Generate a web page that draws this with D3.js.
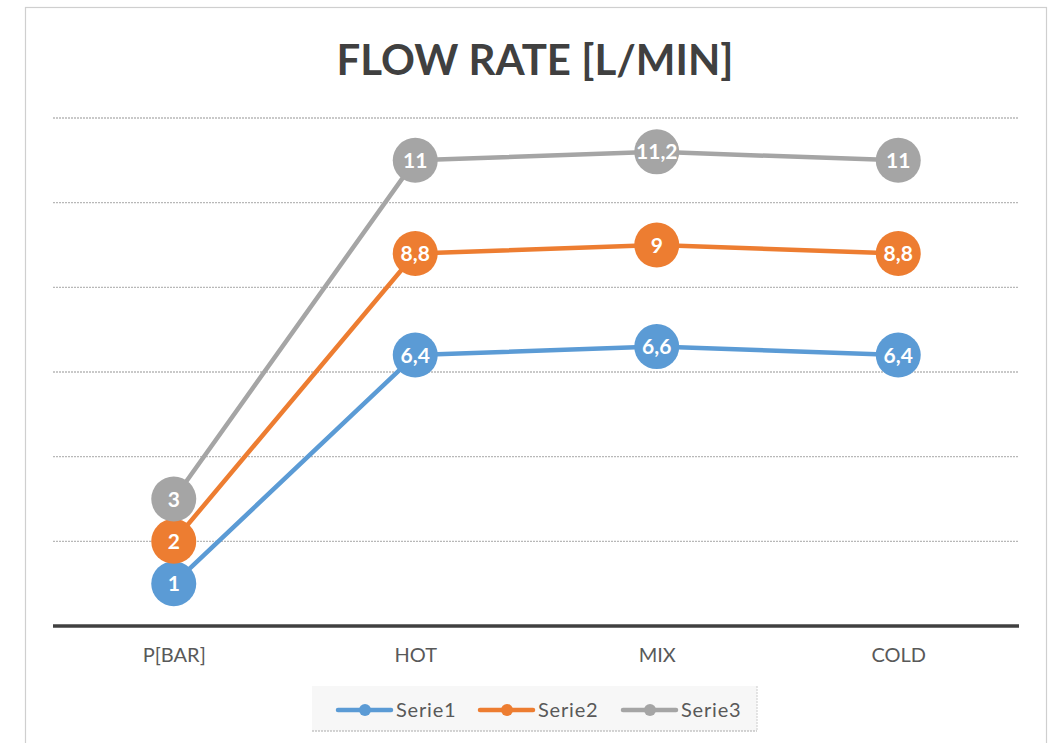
<!DOCTYPE html>
<html><head><meta charset="utf-8">
<script src="https://cdn.jsdelivr.net/npm/d3@7"></script>
<style>body{margin:0;background:#fff;}svg{display:block;}</style>
</head><body>
<svg id="c" width="1062" height="743"></svg>
<script>
const categories = ["P[BAR]", "HOT", "MIX", "COLD"];
const serie1 = [1, 6.4, 6.6, 6.4];
const serie2 = [2, 8.8, 9, 8.8];
const serie3 = [3, 11, 11.2, 11];
const seriesNames = ["Serie1", "Serie2", "Serie3"];
const seriesColors = ["#5B9BD5", "#ED7D31", "#A5A5A5"];
const yTicks = [0, 2, 4, 6, 8, 10, 12];
const title = "FLOW RATE [L/MIN]";

const font = "Lato, 'Open Sans', sans-serif";
const svg = d3.select("#c");
svg.append("rect").attr("x", 25.5).attr("y", 7.5).attr("width", 1021).attr("height", 760)
  .attr("fill", "#fff").attr("stroke", "#cfcfcf").attr("stroke-width", 1.2);

const left = 53, right = 1019;
const x = d3.scalePoint().domain(categories).range([left, right]).padding(0.5);
const y = d3.scaleLinear().domain([0, 12]).range([626, 118]);

svg.append("text").attr("x", 535).attr("y", 75).attr("text-anchor", "middle")
  .attr("font-family", font).attr("font-weight", "bold").attr("font-size", 42)
  .attr("fill", "#404040").text(title);

// gridlines
svg.append("g").selectAll("line").data(yTicks.filter(d => d > 0)).join("line")
  .attr("x1", left).attr("x2", right).attr("y1", d => y(d)).attr("y2", d => y(d))
  .attr("stroke", "#b8b8b8").attr("stroke-width", 1.3).attr("stroke-dasharray", "2,1");

// x axis
const xAxis = svg.append("g").attr("transform", `translate(0,${y(0)})`)
  .call(d3.axisBottom(x).tickSize(0).tickPadding(22));
xAxis.select(".domain").attr("stroke", "#404040").attr("stroke-width", 3.5)
  .attr("d", `M${left},0H${right}`);
xAxis.selectAll("text").attr("font-family", font).attr("font-size", 20).attr("fill", "#595959");

const allSeries = [serie1, serie2, serie3];
const line = d3.line().x((d, i) => x(categories[i])).y(d => y(d));
allSeries.forEach((s, k) => {
  svg.append("path").datum(s).attr("d", line).attr("fill", "none")
    .attr("stroke", seriesColors[k]).attr("stroke-width", 4.5).attr("stroke-linejoin", "round");
});
allSeries.forEach((s, k) => {
  const g = svg.append("g");
  g.selectAll("circle").data(s).join("circle")
    .attr("cx", (d, i) => x(categories[i])).attr("cy", d => y(d)).attr("r", 22.5)
    .attr("fill", seriesColors[k]);
  g.selectAll("text").data(s).join("text")
    .attr("x", (d, i) => x(categories[i])).attr("y", d => y(d) + 7.5)
    .attr("text-anchor", "middle").attr("font-family", font).attr("font-weight", "bold")
    .attr("font-size", 21).attr("fill", "#fff")
    .text(d => String(d).replace(".", ","));
});

// legend
const lg = svg.append("g");
lg.append("rect").attr("x", 312).attr("y", 686).attr("width", 445).attr("height", 45)
  .attr("fill", "#f7f7f7");
lg.append("line").attr("x1", 312).attr("x2", 757).attr("y1", 731).attr("y2", 731)
  .attr("stroke", "#aaa").attr("stroke-dasharray", "2,1");
lg.append("line").attr("x1", 757).attr("x2", 757).attr("y1", 686).attr("y2", 731)
  .attr("stroke", "#ccc").attr("stroke-dasharray", "2,1");
const lx = [338, 480, 623];
seriesNames.forEach((n, k) => {
  const gx = lx[k];
  lg.append("line").attr("x1", gx).attr("x2", gx + 53).attr("y1", 710).attr("y2", 710)
    .attr("stroke", seriesColors[k]).attr("stroke-width", 4.5).attr("stroke-linecap", "round");
  lg.append("circle").attr("cx", gx + 27).attr("cy", 710).attr("r", 6).attr("fill", seriesColors[k]);
  lg.append("text").attr("x", gx + 58).attr("y", 717).attr("font-family", font)
    .attr("font-size", 20).attr("letter-spacing", 0.8).attr("fill", "#595959").text(n);
});
</script>
</body></html>
